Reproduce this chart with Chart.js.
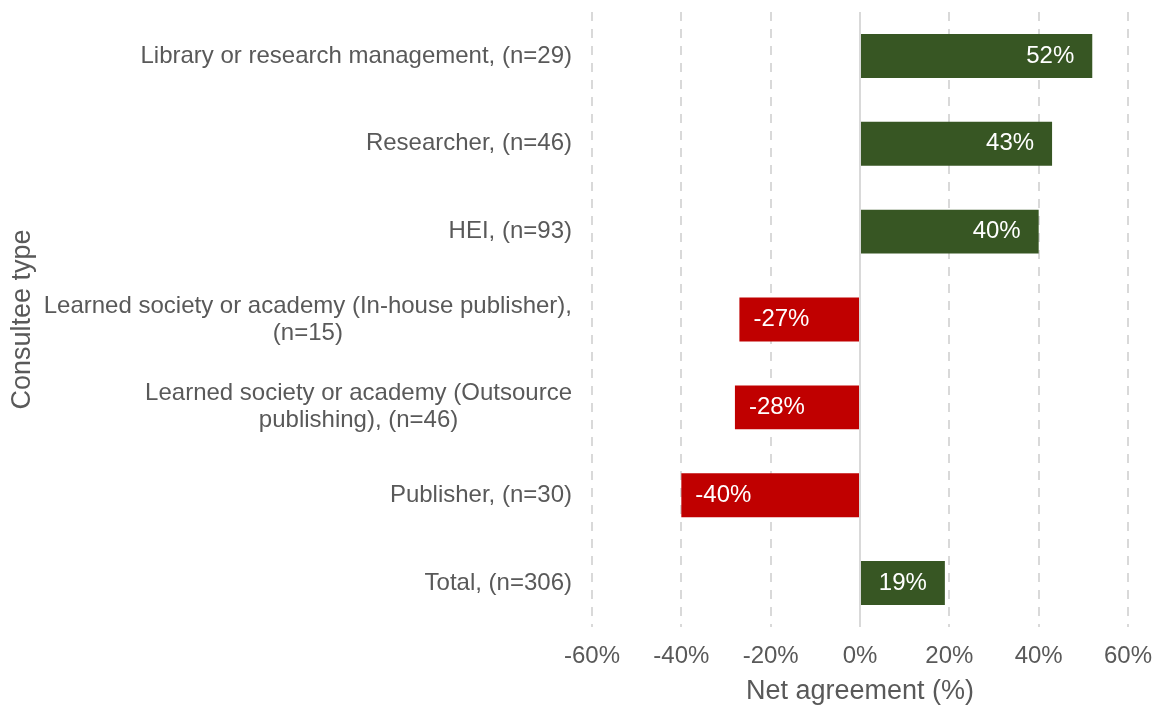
<!DOCTYPE html>
<html>
<head>
<meta charset="utf-8">
<script src="https://cdn.jsdelivr.net/npm/chart.js@4.4.1/dist/chart.umd.min.js"></script>
<style>
  html, body { margin: 0; padding: 0; background: #ffffff; }
  #wrap { width: 1157px; height: 708px; position: relative; }
</style>
</head>
<body>
<div id="wrap"><canvas id="c"></canvas></div>
<script>
const categories = [
  "Library or research management, (n=29)",
  "Researcher, (n=46)",
  "HEI, (n=93)",
  ["Learned society or academy (In-house publisher),", "(n=15)"],
  ["Learned society or academy (Outsource", "publishing), (n=46)"],
  "Publisher, (n=30)",
  "Total, (n=306)"
];
const netAgreement = [52, 43, 40, -27, -28, -40, 19];
const xTicks = [-60, -40, -20, 0, 20, 40, 60];
const xTitle = "Net agreement (%)";
const yTitle = "Consultee type";

const GREEN = "#375623";
const RED = "#C00000";
const TEXT = "#595959";
const GRID = "#d9d9d9";
const FONT = "'Liberation Sans', Arial, sans-serif";

const yLabelPlugin = {
  id: 'yLabels',
  afterDraw(chart) {
    const ctx = chart.ctx;
    const ys = chart.scales.y;
    const right = chart.chartArea.left - 20;
    ctx.save();
    ctx.font = "24px " + FONT;
    ctx.fillStyle = TEXT;
    ctx.textBaseline = 'middle';
    ctx.textAlign = 'center';
    const lh = 27;
    categories.forEach((lab, i) => {
      const lines = Array.isArray(lab) ? lab : [lab];
      const maxW = Math.max(...lines.map(l => ctx.measureText(l).width));
      const cx = right - maxW / 2;
      const cy = ys.getPixelForValue(i);
      lines.forEach((l, j) => {
        const y = cy + (j - (lines.length - 1) / 2) * lh;
        ctx.fillText(l, cx, y);
      });
    });
    ctx.restore();
  }
};

const zeroLinePlugin = {
  id: 'zeroLine',
  beforeDatasetsDraw(chart) {
    const ctx = chart.ctx;
    const x = chart.scales.x.getPixelForValue(0);
    const a = chart.chartArea;
    ctx.save();
    ctx.strokeStyle = GRID;
    ctx.lineWidth = 2;
    ctx.beginPath();
    ctx.moveTo(x, a.top);
    ctx.lineTo(x, a.bottom);
    ctx.stroke();
    ctx.restore();
  }
};

const valueLabelPlugin = {
  id: 'valueLabels',
  afterDatasetsDraw(chart) {
    const ctx = chart.ctx;
    const meta = chart.getDatasetMeta(0);
    ctx.save();
    ctx.font = "24px " + FONT;
    ctx.fillStyle = "#ffffff";
    ctx.textBaseline = 'middle';
    meta.data.forEach((bar, i) => {
      const v = netAgreement[i];
      const txt = v + "%";
      if (v >= 0) {
        ctx.textAlign = 'right';
        ctx.fillText(txt, bar.x - 18, bar.y);
      } else {
        ctx.textAlign = 'left';
        ctx.fillText(txt, bar.x + 14, bar.y);
      }
    });
    ctx.restore();
  }
};

new Chart(document.getElementById('c'), {
  type: 'bar',
  data: {
    labels: categories,
    datasets: [{
      data: netAgreement,
      backgroundColor: ctx => (ctx.raw >= 0 ? GREEN : RED),
      barPercentage: 0.5,
      categoryPercentage: 1.0
    }]
  },
  options: {
    indexAxis: 'y',
    responsive: true,
    maintainAspectRatio: false,
    animation: false,
    layout: { padding: { top: 12, right: 29, bottom: 0, left: 0 } },
    plugins: { legend: { display: false }, tooltip: { enabled: false } },
    scales: {
      x: {
        min: -60, max: 60,
        afterBuildTicks: scale => { scale.ticks = xTicks.map(v => ({ value: v })); },
        afterFit: scale => { scale.height = 81; scale.paddingLeft = 0; scale.paddingRight = 0; },
        ticks: {
          color: TEXT,
          font: { family: FONT, size: 24 },
          padding: 15,
          callback: v => v + "%"
        },
        grid: { color: GRID, lineWidth: 2, drawTicks: false },
        border: { display: false, dash: [9, 8] },
        title: {
          display: true, text: xTitle, color: TEXT,
          font: { family: FONT, size: 27 },
          padding: { top: 0, bottom: 0 }
        }
      },
      y: {
        afterFit: scale => { scale.width = 592; scale.paddingTop = 0; scale.paddingBottom = 0; },
        ticks: { display: false },
        grid: { display: false },
        border: { display: false },
        title: {
          display: true, text: yTitle, color: TEXT,
          font: { family: FONT, size: 27 },
          padding: { top: 6, bottom: 0 }
        }
      }
    }
  },
  plugins: [zeroLinePlugin, valueLabelPlugin, yLabelPlugin]
});
</script>
</body>
</html>
